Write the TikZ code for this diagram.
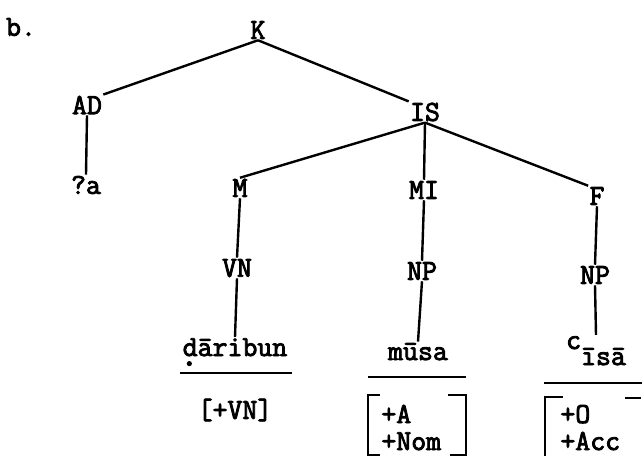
\documentclass[tikz,border=0pt]{standalone}
\usepackage{fontspec}
\newfontfamily\treefont{Latin Modern Mono}[FakeBold=3]
\begin{document}
\begin{tikzpicture}[x=0.5pt,y=-0.5pt,
    every node/.style={font=\treefont\fontsize{14.5}{15}\selectfont, inner sep=0.5pt},
    feat/.style={anchor=west, text height=7pt, text depth=0pt, inner sep=0pt},
    branch/.style={line width=1.2pt},
    rule/.style={line width=1.2pt}]
    \useasboundingbox (0,0) rectangle (642,456);
    % label
    \node (lbl) at (21,27) {b.};

    % tree
    \node (K) at (258,30) {K};
    \node (AD) at (87,105) {AD};
    \node (IS) at (425,112) {IS};
    \node (qa) at (86,185) {?a};
    \node (M) at (240,188) {M};
    \node (MI) at (424,190) {MI};
    \node (F) at (597,196) {F};
    \node (VN) at (237,268) {VN};
    \node (NPa) at (422,271) {NP};
    \node (NPb) at (595,275) {NP};

    % words
    \node[anchor=base] (dar) at (235,356) {dāribun};
    \fill ([xshift=4pt,yshift=-3.8pt]dar.base west) circle (1.3pt);
    \node[anchor=base] (mus) at (418,360) {mūsa};
    \node[anchor=base] (isa) at (596,365) {\raisebox{8pt}{c}īsā};

    % branches
    \draw[branch] (K.south) -- (AD.north east);
    \draw[branch] (K.south) -- (IS.north west);
    \draw[branch] (AD.south) -- (qa.north);
    \draw[branch] (IS.south) -- (M.north);
    \draw[branch] (IS.south) -- (MI.north);
    \draw[branch] (IS.south) -- (F.north west);
    \draw[branch] (M.south) -- (VN.north);
    \draw[branch] (MI.south) -- (NPa.north);
    \draw[branch] (F.south) -- (NPb.north);
    \draw[branch] (VN.south) -- (dar.north);
    \draw[branch] (NPa.south) -- (mus.north);
    \draw[branch] (NPb.south) -- (isa.north);

    % underlines
    \draw[rule] (180,373) -- (292,373);
    \draw[rule] (368,377) -- (466,377);
    \draw[rule] (544,383) -- (642,383);

    % features
    \node (fVN) at (235,410) {[+VN]};
    \node[feat] (fA) at (381,416) {+A};
    \node[feat] (fNom) at (381,443) {+Nom};
    \node[feat] (fO) at (560,416) {+O};
    \node[feat] (fAcc) at (560,443) {+Acc};
    \draw[rule] (380,395) -- (368,395) -- (368,455) -- (380,455);
    \draw[rule] (448,395) -- (466,395) -- (466,455) -- (450,455);
    \draw[rule] (563,397) -- (545,397) -- (545,456);
    \draw[rule] (625,398) -- (641,398);
\end{tikzpicture}
\end{document}
